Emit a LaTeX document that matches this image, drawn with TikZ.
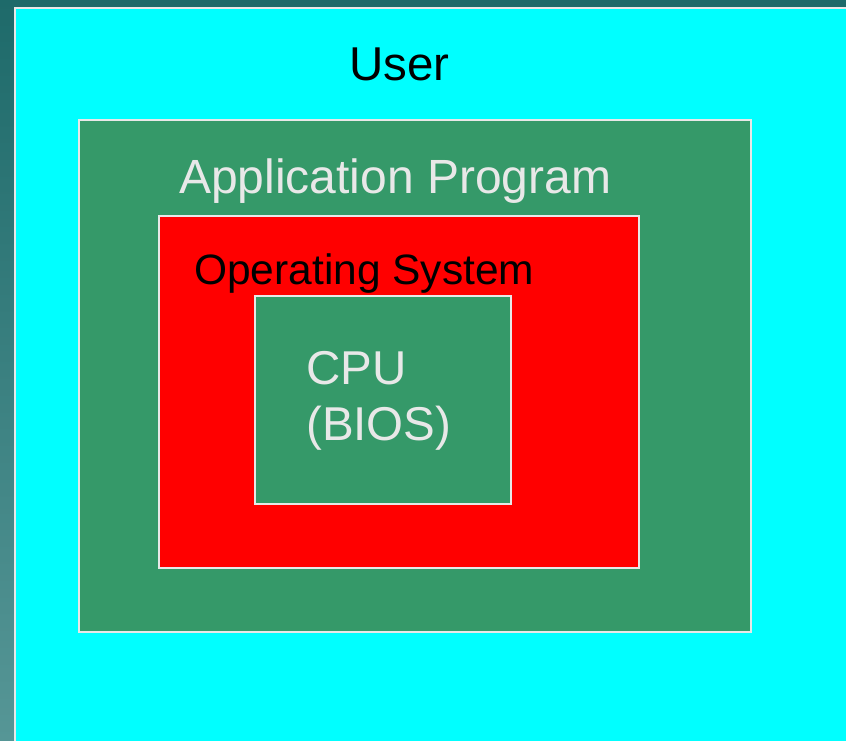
\documentclass[tikz,border=0pt]{standalone}
\usepackage{fontspec}
\setmainfont{Liberation Sans}

\definecolor{slidetop}{RGB}{30,106,106}
\definecolor{slidebot}{RGB}{86,150,150}
\definecolor{layergreen}{RGB}{53,153,105}
\definecolor{layerred}{RGB}{255,0,0}
\definecolor{layercyan}{RGB}{0,255,255}
\definecolor{edgegray}{RGB}{232,232,232}

\tikzset{
  layer/.style={draw=edgegray, line width=2pt},
  lbl/.style={inner sep=0pt, anchor=base west, font=\fontsize{47.5}{56}\selectfont},
}

\begin{document}
\begin{tikzpicture}[x=1pt, y=-1pt]
          \useasboundingbox (0,0) rectangle (846,740);
          \shade[top color=slidetop, bottom color=slidebot] (0,0) rectangle (846,740);

          % nested layers, outside in
          \fill[layercyan, layer] (15,8) rectangle (852,748);
          \fill[layergreen, layer] (79,120) rectangle (751,632);
          \fill[layerred, layer] (159,216) rectangle (639,568);
          \fill[layergreen, layer] (255,296) rectangle (511,504);

          \node[lbl, text=black] (user) at (349,80) {User};
          \node[lbl, text=edgegray, font=\fontsize{48}{56}\selectfont] (app) at (179,193) {Application Program};
          \node[lbl, text=black, font=\fontsize{42.5}{50}\selectfont] (os) at (194,284) {Operating System};
          \node[lbl, text=edgegray, align=left, anchor=north west] (cpu) at (306,351) {CPU\\(BIOS)};
        \end{tikzpicture}
\end{document}
